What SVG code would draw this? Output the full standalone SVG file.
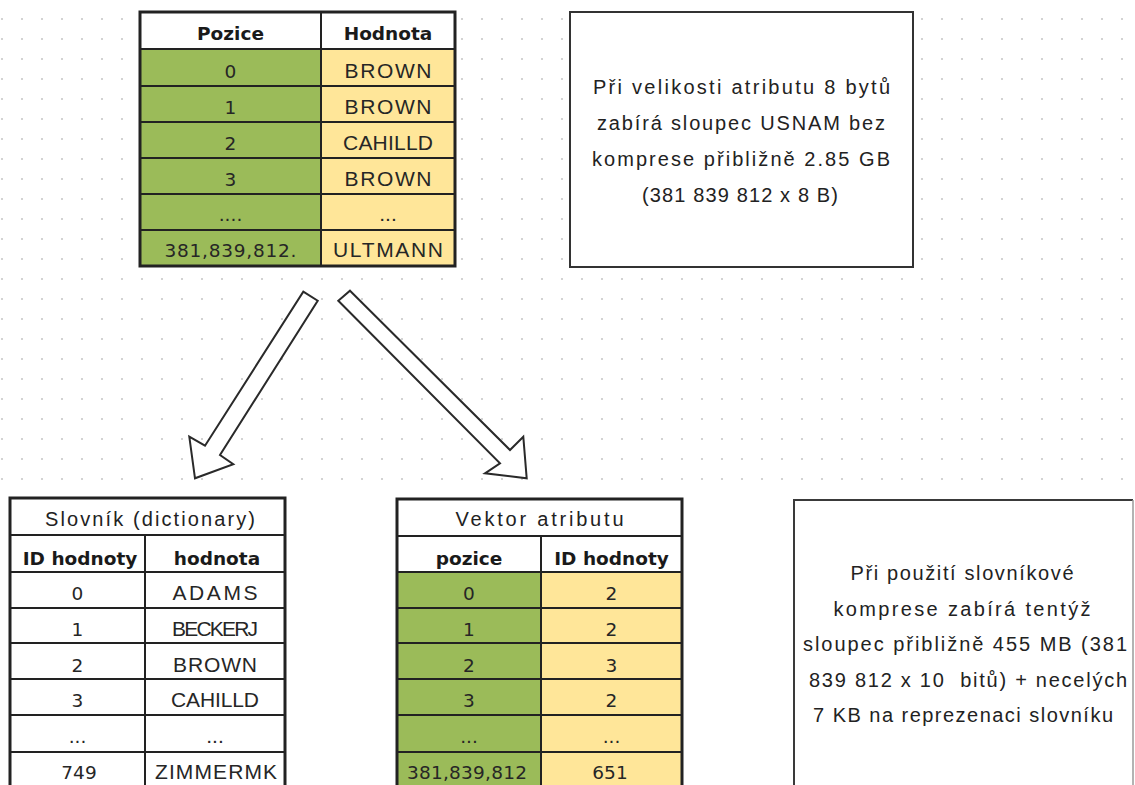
<svg xmlns="http://www.w3.org/2000/svg" width="1135" height="785" viewBox="0 0 1135 785">
<defs>
<pattern id="dots" x="12" y="9" width="20" height="20" patternUnits="userSpaceOnUse">
<circle cx="10" cy="10" r="1" fill="#c4c4c4"/>
</pattern>
<style>
.frame{fill:none;stroke:#222;stroke-width:3}
.grid{stroke:#222;stroke-width:2;fill:none}
.white{fill:#ffffff}
.green{fill:#9bbb59}
.yellow{fill:#ffe699}
.num{font-family:"DejaVu Sans",Verdana,sans-serif;font-size:18.5px;fill:#262626;text-anchor:middle}
.name{font-family:"Liberation Sans",Arial,sans-serif;font-size:21px;fill:#262626;text-anchor:middle}
.head{font-family:"DejaVu Sans",Verdana,sans-serif;font-weight:bold;font-size:18.5px;fill:#1a1a1a;text-anchor:middle}
.note{font-family:"Liberation Sans",Arial,sans-serif;font-size:20px;fill:#222;text-anchor:middle}
.arrow{fill:#ffffff;stroke:#2a2a2a;stroke-width:2;stroke-linejoin:miter}
</style>
</defs>
<rect x="0" y="0" width="1135" height="785" fill="#ffffff"/>
<rect x="0" y="0" width="1135" height="490" fill="url(#dots)"/>

<g id="table-original">
<rect class="white" x="140" y="12" width="315" height="37"/>
<rect class="green" x="140" y="49" width="181" height="217"/>
<rect class="yellow" x="321" y="49" width="134" height="217"/>
<path class="grid" d="M140 49H455M140 86H455M140 122H455M140 158H455M140 194H455M140 230H455M321 12V266"/>
<rect class="frame" x="140" y="12" width="315" height="254"/>
<text class="head" x="230.5" y="40">Pozice</text>
<text class="head" x="388" y="40">Hodnota</text>
<text class="num" x="230.5" y="78">0</text>
<text class="num" x="230.5" y="114">1</text>
<text class="num" x="230.5" y="150">2</text>
<text class="num" x="230.5" y="186">3</text>
<text class="num" x="230.5" y="221">....</text>
<text class="num" x="230.5" y="257" textLength="132">381,839,812.</text>
<text class="name" x="388" y="78" textLength="87">BROWN</text>
<text class="name" x="388" y="114" textLength="87">BROWN</text>
<text class="name" x="388" y="150" textLength="90">CAHILLD</text>
<text class="name" x="388" y="186" textLength="87">BROWN</text>
<text class="name" x="388" y="221">...</text>
<text class="name" x="388" y="257" textLength="110">ULTMANN</text>
</g>

<g id="note-top">
<rect x="570" y="12" width="343" height="255" fill="#ffffff" stroke="#333" stroke-width="2"/>
<text class="note" x="741.5" y="94" textLength="297">Při velikosti atributu 8 bytů</text>
<text class="note" x="741" y="130" textLength="288">zabírá sloupec USNAM bez</text>
<text class="note" x="741" y="166" textLength="298">komprese přibližně 2.85 GB</text>
<text class="note" x="740" y="202" textLength="196">(381 839 812 x 8 B)</text>
</g>

<g id="connectors">
<polygon class="arrow" points="303.3,291.7 317.7,300.7 220,455 233.3,464.3 195,478.3 189.3,436.7 205,445.7"/>
<polygon class="arrow" points="350,290.7 510,450 523.3,436.7 526.7,478.3 485,473.3 500,463.3 338.3,300.7"/>
</g>

<g id="table-dictionary">
<rect class="white" x="10" y="498" width="275" height="300"/>
<path class="grid" d="M10 535H285M10 572H285M10 608H285M10 643H285M10 679H285M10 715H285M10 752H285M145 535V790"/>
<rect class="frame" x="10" y="498" width="275" height="300"/>
<text class="note" x="150" y="526" textLength="210">Slovník (dictionary)</text>
<text class="head" x="80" y="565">ID hodnoty</text>
<text class="head" x="217" y="565">hodnota</text>
<text class="num" x="77.5" y="600">0</text>
<text class="num" x="77.5" y="636">1</text>
<text class="num" x="77.5" y="672">2</text>
<text class="num" x="77.5" y="707">3</text>
<text class="num" x="77.5" y="743">...</text>
<text class="num" x="79" y="779">749</text>
<text class="name" x="215" y="600" textLength="85">ADAMS</text>
<text class="name" x="215" y="636" textLength="86">BECKERJ</text>
<text class="name" x="215" y="672" textLength="84">BROWN</text>
<text class="name" x="215" y="707" textLength="88">CAHILLD</text>
<text class="name" x="215" y="743">...</text>
<text class="name" x="216" y="779" textLength="122">ZIMMERMK</text>
</g>

<g id="table-vector">
<rect class="white" x="397" y="499" width="285" height="73"/>
<rect class="green" x="397" y="572" width="144" height="220"/>
<rect class="yellow" x="541" y="572" width="141" height="220"/>
<path class="grid" d="M397 536H682M397 572H682M397 608H682M397 643H682M397 679H682M397 715H682M397 752H682M541 536V790"/>
<rect class="frame" x="397" y="499" width="285" height="300"/>
<text class="note" x="539.5" y="526" textLength="168">Vektor atributu</text>
<text class="head" x="469" y="565">pozice</text>
<text class="head" x="611.5" y="565">ID hodnoty</text>
<text class="num" x="469" y="600">0</text>
<text class="num" x="469" y="636">1</text>
<text class="num" x="469" y="672">2</text>
<text class="num" x="469" y="707">3</text>
<text class="num" x="469" y="743">...</text>
<text class="num" x="467" y="779" textLength="120">381,839,812</text>
<text class="num" x="611.5" y="600">2</text>
<text class="num" x="611.5" y="636">2</text>
<text class="num" x="611.5" y="672">3</text>
<text class="num" x="611.5" y="707">2</text>
<text class="num" x="611.5" y="743">...</text>
<text class="num" x="610" y="779">651</text>
</g>

<g id="note-bottom">
<rect x="794" y="500" width="339" height="300" fill="#ffffff"/>
<path d="M794 800V500H1133" fill="none" stroke="#3a3a3a" stroke-width="2"/>
<path d="M1133 500V800" fill="none" stroke="#9a9a9a" stroke-width="1.5"/>
<text class="note" x="962" y="580" textLength="223">Při použití slovníkové</text>
<text class="note" x="962" y="616" textLength="257">komprese zabírá tentýž</text>
<text class="note" x="965" y="651" textLength="324">sloupec přibližně 455 MB (381</text>
<text class="note" x="968" y="687" textLength="318" xml:space="preserve">839 812 x 10  bitů) + necelých</text>
<text class="note" x="963" y="722" textLength="300">7 KB na reprezenaci slovníku</text>
</g>
</svg>
